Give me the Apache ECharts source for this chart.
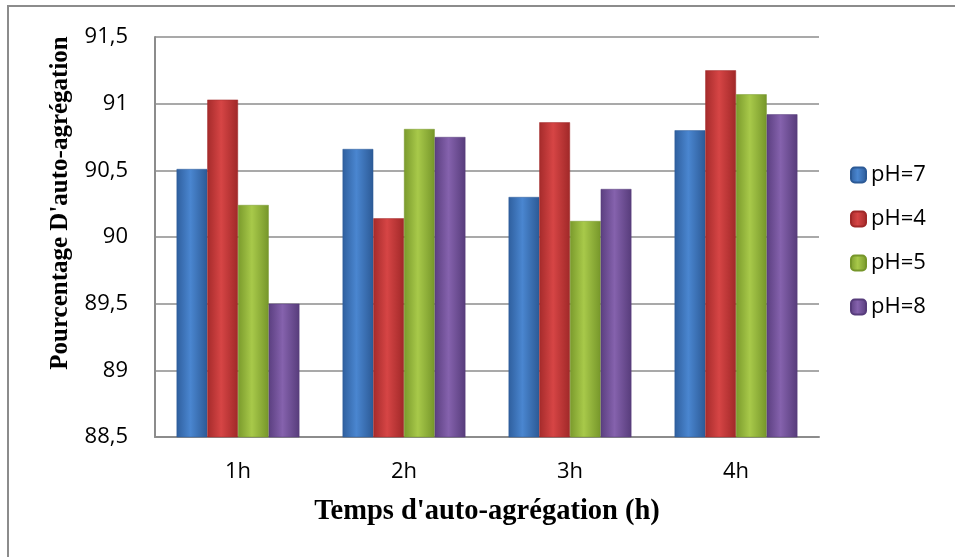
<!DOCTYPE html>
<html>
<head>
<meta charset="utf-8">
<script src="https://cdn.jsdelivr.net/npm/echarts@6/dist/echarts.min.js"></script>
<style>
  html, body { margin: 0; padding: 0; background: #fff; }
  #chart { width: 955px; height: 557px; }
</style>
</head>
<body>
<div id="chart"></div>
<script>
  // data
  var categories = ['1h', '2h', '3h', '4h'];
  var seriesNames = ['pH=7', 'pH=4', 'pH=5', 'pH=8'];
  var ph7 = [90.51, 90.66, 90.30, 90.80];
  var ph4 = [91.03, 90.14, 90.86, 91.25];
  var ph5 = [90.24, 90.81, 90.12, 91.07];
  var ph8 = [89.50, 90.75, 90.36, 90.92];

  var colors = [
    ['#2f5f9e', '#4a86d0', '#2c5a96'],
    ['#a52b2b', '#d64545', '#a02828'],
    ['#7a9a2c', '#a8c94a', '#76962a'],
    ['#5b3f80', '#8562ad', '#573c7b']
  ];

  function barColor(c) {
    return new echarts.graphic.LinearGradient(0, 0, 1, 0, [
      { offset: 0, color: c[0] },
      { offset: 0.45, color: c[1] },
      { offset: 1, color: c[2] }
    ]);
  }

  var allData = [ph7, ph4, ph5, ph8];
  var series = allData.map(function (d, i) {
    return {
      name: seriesNames[i],
      type: 'bar',
      data: d,
      barGap: '0%',
      barCategoryGap: '26%',
      itemStyle: {
        color: barColor(colors[i]),
        borderColor: colors[i][2],
        borderWidth: 0.5
      }
    };
  });

  var myChart = echarts.init(document.getElementById('chart'));
  myChart.setOption({
    animation: false,
    grid: { left: 155, right: 136, top: 37, bottom: 120 },
    legend: {
      orient: 'vertical',
      left: 845,
      top: 159,
      itemWidth: 15,
      itemHeight: 15,
      itemGap: 22,
      data: seriesNames,
      textStyle: { fontFamily: 'Open Sans', fontSize: 22, color: '#000' }
    },
    xAxis: {
      type: 'category',
      data: categories,
      name: "Temps d'auto-agrégation (h)",
      nameLocation: 'middle',
      nameGap: 60,
      nameTextStyle: {
        fontFamily: 'Liberation Serif', fontWeight: 'bold', fontSize: 28.5, color: '#000'
      },
      axisTick: { show: false },
      axisLine: { lineStyle: { color: '#8c8c8c', width: 2 } },
      axisLabel: { fontFamily: 'Open Sans', fontSize: 22, color: '#000', margin: 24 }
    },
    yAxis: {
      type: 'value',
      min: 88.5,
      max: 91.5,
      interval: 0.5,
      axisLine: { show: true, lineStyle: { color: '#8c8c8c', width: 2 } },
      axisTick: { show: false },
      splitLine: { lineStyle: { color: '#8c8c8c', width: 1.5 } },
      axisLabel: {
        fontFamily: 'Open Sans', fontSize: 22, color: '#000', margin: 27,
        formatter: function (v) { return String(v).replace('.', ','); }
      }
    },
    graphic: [
      {
        type: 'rect',
        shape: { x: 8, y: 6, width: 960, height: 560 },
        style: { fill: 'none', stroke: '#8c8c8c', lineWidth: 2 },
        silent: true
      },
      {
        type: 'text',
        x: 61,
        y: 203,
        rotation: Math.PI / 2,
        style: {
          text: "Pourcentage D'auto-agrégation",
          fontFamily: 'Liberation Serif',
          fontWeight: 'bold',
          fontSize: 25,
          fill: '#000',
          textAlign: 'center',
          textVerticalAlign: 'middle'
        }
      }
    ],
    series: series
  });
</script>
</body>
</html>
